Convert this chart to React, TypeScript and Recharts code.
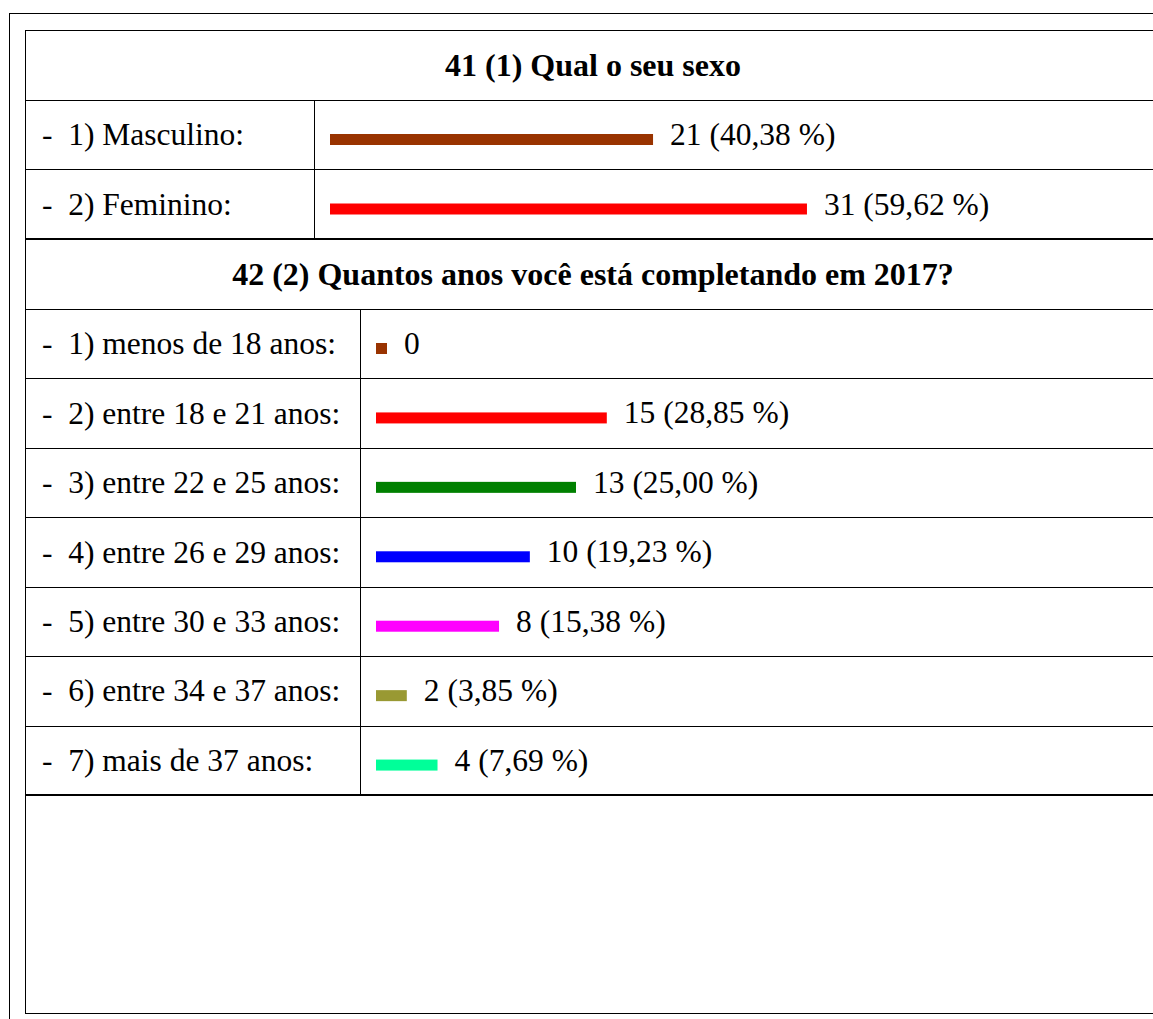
import React from 'react';
import { BarChart, Bar, XAxis, YAxis, LabelList } from 'recharts';

// question 41: sex
const sexCategories = ['1) Masculino:', '2) Feminino:'];
const sexCounts = [21, 31];
const sexPercents = [40.38, 59.62];
const sexColors = ['#993300', '#ff0000'];

// question 42: age
const ageCategories = [
    '1) menos de 18 anos:',
    '2) entre 18 e 21 anos:',
    '3) entre 22 e 25 anos:',
    '4) entre 26 e 29 anos:',
    '5) entre 30 e 33 anos:',
    '6) entre 34 e 37 anos:',
    '7) mais de 37 anos:',
];
const ageCounts = [0, 15, 13, 10, 8, 2, 4];
const agePercents = [0, 28.85, 25.0, 19.23, 15.38, 3.85, 7.69];
const ageColors = ['#993300', '#ff0000', '#008000', '#0000ff', '#ff00ff', '#999933', '#00ff99'];

const FONT = 'Liberation Serif';
const FS = 31.5;

const fmt = (count: number, pct: number) =>
    count === 0 ? '0' : `${count} (${pct.toFixed(2).replace('.', ',')} %)`;

const build = (cats: string[], counts: number[], pcts: number[], colors: string[]) =>
    cats.map((name, i) => ({ name, pct: pcts[i], label: fmt(counts[i], pcts[i]), color: colors[i] }));

const sexData = build(sexCategories, sexCounts, sexPercents, sexColors);
const ageData = build(ageCategories, ageCounts, agePercents, ageColors);

// bars sit on the text baseline; zero still gets a small square
const BarShape = (props: any) => {
    const { x, y, width, height, payload } = props;
    return <rect x={x} y={y + 5} width={Math.max(width, 11)} height={height} fill={payload.color} />;
};

const ValueLabel = (props: any) => {
    const { x, y, width, height, value } = props;
    return (
        <text
            x={x + Math.max(width, 11) + 17}
            y={y + height / 2}
            dominantBaseline="central"
            style={{ fontFamily: FONT, fontSize: FS }}
            fill="#000"
        >
            {value}
        </text>
    );
};

const CatTick = (props: any) => {
    const { y, payload } = props;
    return (
        <text x={17} y={y} dominantBaseline="central" style={{ fontFamily: FONT, fontSize: FS, whiteSpace: 'pre' }} fill="#000">
            {'-\u00a0\u00a0' + payload.value}
        </text>
    );
};

const Section = ({ data, top, height, axisWidth, maxPct }: any) => (
    <div style={{ position: 'absolute', left: 25, top }}>
        <BarChart
            layout="vertical"
            width={axisWidth + 16 + maxPct * 8}
            height={height}
            data={data}
            margin={{ top: 0, right: 0, bottom: 0, left: 0 }}
        >
            <XAxis type="number" domain={[0, maxPct]} hide padding={{ left: 16, right: 0 }} />
            <YAxis
                type="category"
                dataKey="name"
                width={axisWidth}
                axisLine={false}
                tickLine={false}
                interval={0}
                tick={<CatTick />}
            />
            <Bar dataKey="pct" barSize={11} shape={<BarShape />} isAnimationActive={false}>
                <LabelList dataKey="label" content={<ValueLabel />} />
            </Bar>
        </BarChart>
    </div>
);

const HLine = ({ y, h = 1 }: { y: number; h?: number }) => (
    <div style={{ position: 'absolute', left: 25, top: y, width: 1136, height: h, background: '#000' }} />
);
const VLine = ({ x, y1, y2 }: { x: number; y1: number; y2: number }) => (
    <div style={{ position: 'absolute', left: x, top: y1, width: 1, height: y2 - y1, background: '#000' }} />
);

const Title = ({ top, text }: { top: number; text: string }) => (
    <div
        style={{
            position: 'absolute',
            left: 25,
            top,
            width: 1136,
            height: 70,
            display: 'flex',
            alignItems: 'center',
            justifyContent: 'center',
            fontFamily: FONT,
            fontSize: 32,
            fontWeight: 'bold',
            color: '#000',
        }}
    >
        {text}
    </div>
);

export default function App() {
    return (
        <div style={{ position: 'absolute', left: 0, top: 0, width: 1153, height: 1019, overflow: 'hidden', background: '#fff' }}>
            {/* outer frame */}
            <div style={{ position: 'absolute', left: 9, top: 13, width: 1200, height: 1200, border: '1px solid #000' }} />
            {/* inner frame */}
            <div style={{ position: 'absolute', left: 25, top: 30, width: 1134, height: 982, border: '1px solid #000' }} />

            <Title top={30} text="41 (1) Qual o seu sexo" />
            <HLine y={100} />
            <HLine y={169} />
            <HLine y={238} h={2} />
            <VLine x={314} y1={100} y2={239} />

            <Title top={239} text="42 (2) Quantos anos você está completando em 2017?" />
            <HLine y={309} />
            <HLine y={378} />
            <HLine y={448} />
            <HLine y={517} />
            <HLine y={587} />
            <HLine y={656} />
            <HLine y={726} />
            <HLine y={794} h={2} />
            <VLine x={360} y1={309} y2={795} />

            <Section data={sexData} top={100} height={139} axisWidth={289} maxPct={100} />
            <Section data={ageData} top={309} height={486} axisWidth={335} maxPct={90} />
        </div>
    );
}
